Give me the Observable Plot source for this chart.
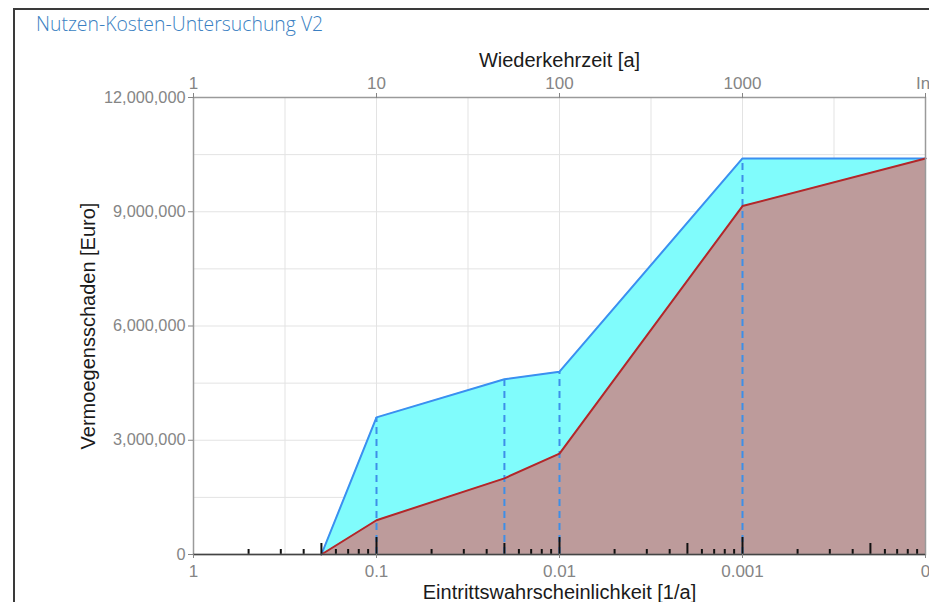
<!DOCTYPE html>
<html>
<head>
<meta charset="utf-8">
<script src="https://cdn.jsdelivr.net/npm/d3@7"></script>
<script src="https://cdn.jsdelivr.net/npm/@observablehq/plot@0.6"></script>
<style>
  html, body { margin: 0; padding: 0; background: #fff; width: 929px; height: 602px; overflow: hidden; }
  #wrap { position: relative; width: 929px; height: 602px; overflow: hidden; }
  #border { position: absolute; left: 13px; top: 8px; width: 1000px; height: 700px; border: 2px solid #3a3a3a; box-sizing: border-box; }
  #title { position: absolute; left: 36px; top: 10px; font-family: "Open Sans", "Noto Sans", sans-serif; font-weight: 300; font-size: 19.4px; color: #3a7fc2; white-space: nowrap; }
  #chart { position: absolute; left: 0; top: 0; }
</style>
</head>
<body>
<div id="wrap">
  <div id="border"></div>
  <div id="chart"></div>
  <div id="title">Nutzen-Kosten-Untersuchung V2</div>
</div>
<script>
// Return periods (Wiederkehrzeit) in years; 10000 stands for "Inf"
const returnPeriods = [5, 10, 50, 100, 1000, 10000];
// Upper (blue) series, Euro
const upperDamage = [0, 3600000, 4600000, 4800000, 10400000, 10400000];
// Lower (red) series, Euro
const lowerDamage = [0, 900000, 2000000, 2650000, 9150000, 10400000];
// Dashed reference lines at these return periods
const dashedAt = [10, 50, 100, 1000];
// Axis ticks
const xTicks = [1, 10, 100, 1000, 10000];
const topTickLabels = ["1", "10", "100", "1000", "Inf"];
const bottomTickLabels = ["1", "0.1", "0.01", "0.001", "0"];
const yTicks = [0, 3000000, 6000000, 9000000, 12000000];
const yGrid = [1500000, 3000000, 4500000, 6000000, 7500000, 9000000, 10500000];
const xGrid = [Math.sqrt(10), 10, Math.sqrt(1000), 100, Math.sqrt(100000), 1000, Math.sqrt(10000000)];
// Log minor ticks along the bottom
const minorShort = [2,3,4,6,7,8,9,20,30,40,60,70,80,90,200,300,400,600,700,800,900,2000,3000,4000,6000,7000,8000,9000];
const minorMid = [5, 50, 500, 5000];
const minorLong = [10, 100, 1000];

const data = returnPeriods.map((T, i) => ({T, upper: upperDamage[i], lower: lowerDamage[i]}));
const dashed = data.filter(d => dashedAt.includes(d.T));

const W = 929, H = 602, mL = 193, mR = 4, mT = 97, mB = 48;
const frameH = H - mT - mB;

const chart = Plot.plot({
  width: W,
  height: H,
  marginLeft: mL,
  marginRight: mR,
  marginTop: mT,
  marginBottom: mB,
  style: {fontFamily: "Liberation Sans, Arial, sans-serif", background: "transparent"},
  x: {type: "log", domain: [1, 10000]},
  y: {domain: [0, 12000000]},
  marks: [
    Plot.gridX(xGrid, {stroke: "#e3e3e3", strokeOpacity: 1}),
    Plot.gridY(yGrid, {stroke: "#e3e3e3", strokeOpacity: 1}),
    Plot.areaY(data, {x: "T", y1: "lower", y2: "upper", fill: "#80fcfc"}),
    Plot.areaY(data, {x: "T", y: "lower", fill: "#bd9b9b"}),
    Plot.ruleX(dashed, {x: "T", y1: 0, y2: "upper", stroke: "#3d8fe8", strokeWidth: 2, strokeDasharray: "7,5"}),
    Plot.line(data, {x: "T", y: "upper", stroke: "#3b8ff0", strokeWidth: 2}),
    Plot.line(data, {x: "T", y: "lower", stroke: "#b1282b", strokeWidth: 2}),
    Plot.ruleX(minorShort, {x: d => d, insetTop: frameH - 5, stroke: "#111", strokeWidth: 2}),
    Plot.ruleX(minorMid, {x: d => d, insetTop: frameH - 11, stroke: "#111", strokeWidth: 2}),
    Plot.ruleX(minorLong, {x: d => d, insetTop: frameH - 17, stroke: "#111", strokeWidth: 2}),
    Plot.frame({stroke: "#9a9a9a", strokeWidth: 1.5}),
    Plot.ruleY([0], {stroke: "#444", strokeWidth: 1.5}),
    Plot.axisY({ticks: yTicks, tickFormat: d3.format(","), tickSize: 5, tickPadding: 3, fontSize: 16.3, color: "#858585", label: null}),
    Plot.axisX({anchor: "top", ticks: xTicks, tickFormat: (d) => topTickLabels[xTicks.indexOf(d)], tickSize: 5, tickPadding: 4, fontSize: 17, color: "#858585", label: null}),
    Plot.axisX({anchor: "bottom", ticks: xTicks, tickFormat: (d) => bottomTickLabels[xTicks.indexOf(d)], tickSize: 4, tickPadding: 6, fontSize: 17, color: "#858585", label: null}),
    Plot.text(["Wiederkehrzeit [a]"], {frameAnchor: "top", dy: -37, lineAnchor: "middle", textAnchor: "middle", fontSize: 20, fill: "#1a1a1a"}),
    Plot.text(["Eintrittswahrscheinlichkeit [1/a]"], {frameAnchor: "bottom", dy: 38, lineAnchor: "middle", textAnchor: "middle", fontSize: 20, fill: "#1a1a1a"}),
    Plot.text(["Vermoegensschaden [Euro]"], {frameAnchor: "left", dx: -105, rotate: -90, lineAnchor: "middle", textAnchor: "middle", fontSize: 20, fill: "#1a1a1a"})
  ]
});
document.getElementById("chart").appendChild(chart);
</script>
</body>
</html>
